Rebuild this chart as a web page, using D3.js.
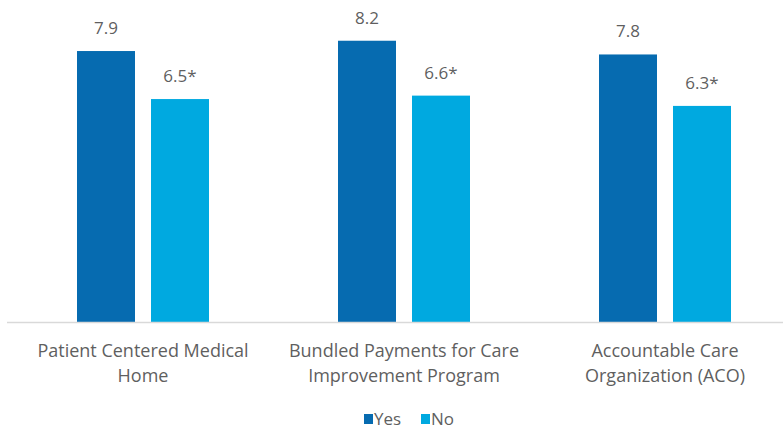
<!DOCTYPE html>
<html><head><meta charset="utf-8">
<script src="https://cdn.jsdelivr.net/npm/d3@7"></script>
<style>body{margin:0;background:#fff}svg{display:block}text{font-family:"Open Sans",sans-serif;fill:#5f5f5f}</style>
</head><body><svg id="c" width="783" height="430"></svg>
<script>
const categories = [["Patient Centered Medical","Home"],["Bundled Payments for Care","Improvement Program"],["Accountable Care","Organization (ACO)"]];
const seriesNames = ["Yes","No"];
const yesValues = [7.9, 8.2, 7.8];
const noValues = [6.5, 6.6, 6.3];
const noLabels = ["6.5*","6.6*","6.3*"];
const yesLabels = ["7.9","8.2","7.8"];
const colors = ["#066BB0","#00A9E0"];

const svg = d3.select("#c");
const keys = categories.map((c,i)=>i);
const x0 = d3.scaleBand().domain(keys).range([12.5, 795.5]).padding(0);
const x1 = d3.scaleBand().domain(seriesNames).range([64.5, 196.5]).paddingInner(0.2162).paddingOuter(0);
const y = d3.scaleLinear().domain([0, 9]).range([322, 13.3]);
const color = d3.scaleOrdinal().domain(seriesNames).range(colors);

const data = keys.map(i => ({i, vals: [
  {s:"Yes", v:yesValues[i], l:yesLabels[i]},
  {s:"No", v:noValues[i], l:noLabels[i]}]}));

const g = svg.selectAll("g.grp").data(data).join("g").attr("class","grp")
  .attr("transform", d=>`translate(${x0(d.i)},0)`);
g.selectAll("rect").data(d=>d.vals).join("rect")
  .attr("x", d=>x1(d.s)).attr("width", x1.bandwidth())
  .attr("y", d=>y(d.v)).attr("height", d=>y(0)-y(d.v))
  .attr("fill", d=>color(d.s));
g.selectAll("text.val").data(d=>d.vals).join("text").attr("class","val")
  .attr("x", d=>x1(d.s)+x1.bandwidth()/2).attr("y", d=>y(d.v)-17)
  .attr("text-anchor","middle").style("font-size","17px").text(d=>d.l);

// baseline axis
const axis = d3.axisBottom(x0).tickSize(0).tickFormat("");
const ax = svg.append("g").attr("transform",`translate(0,${y(0)})`).call(axis);
ax.select(".domain").attr("stroke","#d9d9d9").attr("stroke-width",1.3).attr("d","M7,0.5H783");

// category labels
const cl = svg.append("g").selectAll("text").data(keys).join("text")
  .attr("x", i=>x0(i)+x0.bandwidth()/2).attr("y", 357)
  .attr("text-anchor","middle").style("font-size","18px");
cl.selectAll("tspan").data(i=>categories[i]).join("tspan")
  .attr("x", function(){return this.parentNode.getAttribute("x");})
  .attr("dy", (d,j)=> j===0?0:25).text(d=>d);

// legend
const leg = svg.append("g").selectAll("g").data(seriesNames).join("g")
  .attr("transform",(d,i)=>`translate(${i===0?364:421},414)`);
leg.append("rect").attr("width",9).attr("height",10).attr("fill",d=>color(d));
leg.append("text").attr("x",10).attr("y",11).style("font-size","17px").text(d=>d);
</script></body></html>
